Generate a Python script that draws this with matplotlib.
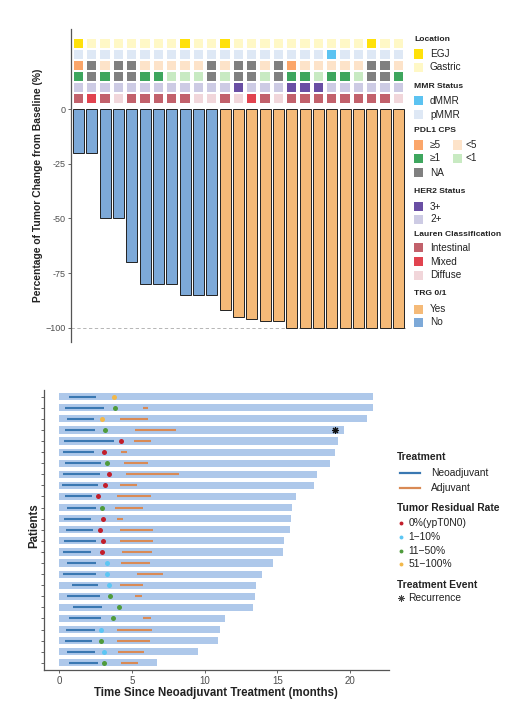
import matplotlib.pyplot as plt
import numpy as np
from matplotlib.lines import Line2D

plt.rcParams['font.family'] = ['Liberation Sans', 'DejaVu Sans']

# ── Data: waterfall ──────────────────────────────────────────────────────────
change = [-20, -20, -50, -50, -70, -80, -80, -80, -85, -85, -85,
          -92, -95, -96, -97, -97, -100, -100, -100, -100, -100, -100, -100, -100, -100]
trg = ["No"] * 11 + ["Yes"] * 14

location = ["EGJ", "Gastric", "Gastric", "Gastric", "Gastric", "Gastric", "Gastric", "Gastric",
            "EGJ", "Gastric", "Gastric", "EGJ", "Gastric", "Gastric", "Gastric", "Gastric",
            "Gastric", "Gastric", "Gastric", "Gastric", "Gastric", "Gastric", "EGJ", "Gastric", "Gastric"]
mmr = ["pMMR"] * 19 + ["dMMR"] + ["pMMR"] * 5
cps5 = [">=5", "NA", "<5", "NA", "NA", "<5", "<5", "<5", "<5", "<5", "NA", "<5", "NA",
        "NA", "<5", "NA", ">=5", "<5", "<5", "<5", "<5", "<5", "NA", "NA", "<5"]
cps1 = [">=1", "NA", ">=1", "NA", "NA", ">=1", ">=1", "<1", "<1", "<1", "NA", "<1", "NA",
        "NA", "<1", "NA", ">=1", ">=1", "<1", ">=1", ">=1", "<1", "NA", "NA", ">=1"]
her2 = ["2+"] * 12 + ["3+", "2+", "2+", "2+", "3+", "3+", "3+"] + ["2+"] * 6
lauren = ["Intestinal", "Mixed", "Intestinal", "Diffuse", "Intestinal", "Intestinal", "Intestinal",
          "Intestinal", "Intestinal", "Diffuse", "Diffuse", "Intestinal", "Diffuse", "Mixed",
          "Intestinal", "Diffuse", "Intestinal", "Intestinal", "Intestinal", "Intestinal",
          "Intestinal", "Intestinal", "Intestinal", "Intestinal", "Diffuse"]

# ── Data: swimmer (top row first) ────────────────────────────────────────────
follow_up = [21.6, 21.6, 21.2, 19.6, 19.2, 19.0, 18.6, 17.7, 17.5, 16.3, 16.0, 15.95, 15.84,
             15.45, 15.36, 14.67, 13.98, 13.56, 13.49, 13.36, 11.43, 11.08, 10.94, 9.56, 6.74]
neo_start = [0.64, 0.41, 0.57, 0.41, 0.34, 0.28, 0.39, 0.23, 0.16, 0.39, 0.57, 0.32, 0.46,
             0.32, 0.28, 0.51, 0.28, 0.87, 0.51, 0.97, 0.64, 0.46, 0.41, 0.51, 0.69]
neo_end = [2.53, 3.10, 2.41, 2.48, 3.79, 2.41, 2.87, 2.78, 2.69, 2.25, 2.53, 2.21, 2.32,
           2.53, 2.18, 2.53, 2.53, 2.69, 2.78, 2.94, 2.87, 2.46, 2.28, 2.46, 2.64]
adj_start = [None, 5.75, 4.18, 5.24, 5.17, 4.23, 4.44, 4.57, 4.18, 3.95, 3.86, 3.95, 4.16,
             4.16, 4.32, 4.23, 5.38, 4.18, 5.20, None, 5.79, 3.95, 3.95, 4.05, 4.23]
adj_end = [None, 6.14, 6.09, 8.05, 6.32, 4.67, 6.11, 8.23, 5.33, 6.28, 5.77, 4.39, 6.46,
           6.46, 6.39, 6.25, 7.15, 5.75, 5.66, None, 6.28, 6.39, 6.21, 5.86, 5.45]
resid_time = [3.77, 3.84, 2.94, 3.17, 4.25, 3.06, 3.31, 3.40, 3.13, 2.64, 2.97, 3.03, 2.78,
              3.03, 2.92, 3.29, 3.29, 3.45, 3.52, 4.09, 3.70, 2.90, 2.90, 3.10, 3.10]
resid_cat = ["51-100%", "11-50%", "51-100%", "11-50%", "0%", "0%", "11-50%", "0%", "0%", "0%",
             "11-50%", "0%", "0%", "0%", "0%", "1-10%", "1-10%", "1-10%", "11-50%", "11-50%",
             "11-50%", "1-10%", "11-50%", "1-10%", "11-50%"]
recur_patient = [3]
recur_time = [19.0]

# ── Palette ──────────────────────────────────────────────────────────────────
TRG_COL = {"Yes": "#F5BA78", "No": "#7DA9D8"}
LOC_COL = {"EGJ": "#FFE10A", "Gastric": "#FFF8C6"}
MMR_COL = {"dMMR": "#5CC3F1", "pMMR": "#DEE8F5"}
CPS5_COL = {">=5": "#FBA66A", "<5": "#FDE3C9", "NA": "#808080"}
CPS1_COL = {">=1": "#3EA65E", "<1": "#C8EAC2", "NA": "#808080"}
HER2_COL = {"3+": "#6A4FA4", "2+": "#CDCBE4"}
LAUREN_COL = {"Intestinal": "#C2616B", "Mixed": "#E1434F", "Diffuse": "#F1D6DA"}
RESID_COL = {"0%": "#C21E2B", "1-10%": "#5CC6F4", "11-50%": "#4F9B3C", "51-100%": "#F2B84A"}
TXT = "#222222"
TICK = "#4D4D4D"

fig = plt.figure(figsize=(5.18, 7.13), dpi=100, facecolor="white")
W, H = 518, 713


def px_axes(l, t, r, b):
    return fig.add_axes([l / W, 1 - b / H, (r - l) / W, (b - t) / H])


# ═════════════════ Waterfall ═════════════════
ax1 = px_axes(71, 29, 406.5, 342)
n = len(change)
x = np.arange(n)
ax1.bar(x, change, width=0.82, color=[TRG_COL[t] for t in trg],
        edgecolor="#222222", linewidth=0.7, zorder=3)
ax1.axhline(-100, color="#AAAAAA", linestyle=(0, (4, 3)), linewidth=0.6, zorder=1)

tile_rows = [(30, location, LOC_COL), (25, mmr, MMR_COL), (20, cps5, CPS5_COL),
             (15, cps1, CPS1_COL), (10, her2, HER2_COL), (5, lauren, LAUREN_COL)]
for yc, vals, cmap in tile_rows:
    ax1.bar(x, 4, width=0.7, bottom=yc - 2, color=[cmap[v] for v in vals],
            linewidth=0, zorder=3)

ax1.set_xlim(-0.56, n - 1 + 0.6)
ax1.set_ylim(-106.6, 36.8)
ax1.set_yticks([0, -25, -50, -75, -100])
ax1.set_yticklabels(["0", "-25", "-50", "-75", "\u2212100"])
ax1.set_xticks([])
for s in ["top", "right", "bottom"]:
    ax1.spines[s].set_visible(False)
ax1.spines["left"].set_color("#555555")
ax1.spines["left"].set_linewidth(0.9)
ax1.tick_params(axis="y", labelsize=6.5, colors=TICK, length=2.5, width=0.6, pad=1.5)
fig.text(38 / W, 1 - 185.5 / H, "Percentage of Tumor Change from Baseline (%)",
         rotation=90, ha="center", va="center", fontsize=7.4, fontweight="bold", color=TXT)

# legend (top)
def sq(xp, yp, color):
    fig.patches.append(plt.Rectangle(((xp) / W, 1 - (yp + 4.5) / H), 9 / W, 9 / H,
                                     facecolor=color, edgecolor="none",
                                     transform=fig.transFigure, figure=fig))


def ltitle(yp, s, fs=6.1, xp=414):
    fig.text(xp / W, 1 - yp / H, s, fontsize=fs, fontweight="bold", color=TXT,
             ha="left", va="center")


def lentry(xp, yp, s, fs=7.2):
    fig.text(xp / W, 1 - yp / H, s, fontsize=fs, color=TXT, ha="left", va="center")


ltitle(39.3, "Location")
sq(414, 54, LOC_COL["EGJ"]); lentry(430, 54, "EGJ")
sq(414, 67.3, LOC_COL["Gastric"]); lentry(430, 67.3, "Gastric")
ltitle(86, "MMR Status")
sq(414, 100.7, MMR_COL["dMMR"]); lentry(430, 100.7, "dMMR")
sq(414, 114.7, MMR_COL["pMMR"]); lentry(430, 114.7, "pMMR")
ltitle(130, "PDL1 CPS")
sq(414, 145, CPS5_COL[">=5"]); lentry(430, 145, "\u22655")
sq(453, 145, CPS5_COL["<5"]); lentry(465, 145, "<5")
sq(414, 158.3, CPS1_COL[">=1"]); lentry(430, 158.3, "\u22651")
sq(453, 158.3, CPS1_COL["<1"]); lentry(465, 158.3, "<1")
sq(414, 172.7, CPS5_COL["NA"]); lentry(430, 172.7, "NA")
ltitle(191.7, "HER2 Status")
sq(414, 206.7, HER2_COL["3+"]); lentry(430, 206.7, "3+")
sq(414, 219.3, HER2_COL["2+"]); lentry(430, 219.3, "2+")
ltitle(234.3, "Lauren Classification")
sq(414, 247.7, LAUREN_COL["Intestinal"]); lentry(430, 247.7, "Intestinal")
sq(414, 261.7, LAUREN_COL["Mixed"]); lentry(430, 261.7, "Mixed")
sq(414, 275, LAUREN_COL["Diffuse"]); lentry(430, 275, "Diffuse")
ltitle(294, "TRG 0/1")
sq(414, 309.3, TRG_COL["Yes"]); lentry(430, 309.3, "Yes")
sq(414, 322.3, TRG_COL["No"]); lentry(430, 322.3, "No")

# ═════════════════ Swimmer ═════════════════
ax2 = px_axes(43.5, 390, 389, 669.5)
m = len(follow_up)
yy = np.arange(m)[::-1]
ax2.barh(yy, follow_up, height=0.65, left=0, color="#AEC8EA", linewidth=0, zorder=1)
ax2.hlines(yy, neo_start, neo_end, color="#3A78B2", linewidth=1.5, zorder=2)
for y0, a0, a1 in zip(yy, adj_start, adj_end):
    if a0 is not None:
        ax2.hlines(y0, a0, a1, color="#D98A55", linewidth=1.5, zorder=2)
for y0, t, c in zip(yy, resid_time, resid_cat):
    ax2.plot(t, y0, marker="o", ms=3.6, color=RESID_COL[c], mec="none", zorder=3)
for p, t in zip(recur_patient, recur_time):
    ax2.plot(t, yy[p], marker=(8, 2, 0), ms=5, color="#111111", mew=0.8, zorder=4)

ax2.set_xlim(-1.08, 22.68)
ax2.set_ylim(-0.6, m - 1 + 0.6)
ax2.set_xticks([0, 5, 10, 15, 20])
ax2.set_yticks(yy)
ax2.set_yticklabels([])
for s in ["top", "right"]:
    ax2.spines[s].set_visible(False)
for s in ["left", "bottom"]:
    ax2.spines[s].set_color("#555555")
    ax2.spines[s].set_linewidth(0.9)
ax2.tick_params(labelsize=7, colors=TICK, length=2.5, width=0.6, pad=2)
ax2.set_xlabel("Time Since Neoadjuvant Treatment (months)", fontsize=8.3,
               fontweight="bold", color=TXT, labelpad=1)
fig.text(34.5 / W, 1 - 525.5 / H, "Patients", rotation=90, ha="center", va="center",
         fontsize=8.3, fontweight="bold", color=TXT)

# legend (bottom)
ltitle(456.7, "Treatment", fs=7.4, xp=397)
fig.add_artist(Line2D([400 / W, 420 / W], [1 - 473.3 / H] * 2, color="#3A78B2", lw=1.6))
lentry(431, 473.3, "Neoadjuvant", fs=7.4)
fig.add_artist(Line2D([400 / W, 420 / W], [1 - 488.3 / H] * 2, color="#D98A55", lw=1.6))
lentry(431, 488.3, "Adjuvant", fs=7.4)
ltitle(508.3, "Tumor Residual Rate", fs=7.4, xp=397)
for yp, lab, key in [(522.7, "0%(ypT0N0)", "0%"), (536.7, "1\u221210%", "1-10%"),
                     (550.7, "11\u221250%", "11-50%"), (564.3, "51\u2212100%", "51-100%")]:
    fig.add_artist(Line2D([401 / W], [1 - yp / H], marker="o", ms=2.8,
                          color=RESID_COL[key], mec="none", lw=0))
    lentry(408.3, yp, lab, fs=7.4)
ltitle(585, "Treatment Event", fs=7.4, xp=397)
fig.add_artist(Line2D([401 / W], [1 - 598.3 / H], marker=(8, 2, 0), ms=4.5,
                      color="#444444", mew=0.6, lw=0))
lentry(408.3, 598.3, "Recurrence", fs=7.4)

fig.savefig("out.png", dpi=100, facecolor="white")
